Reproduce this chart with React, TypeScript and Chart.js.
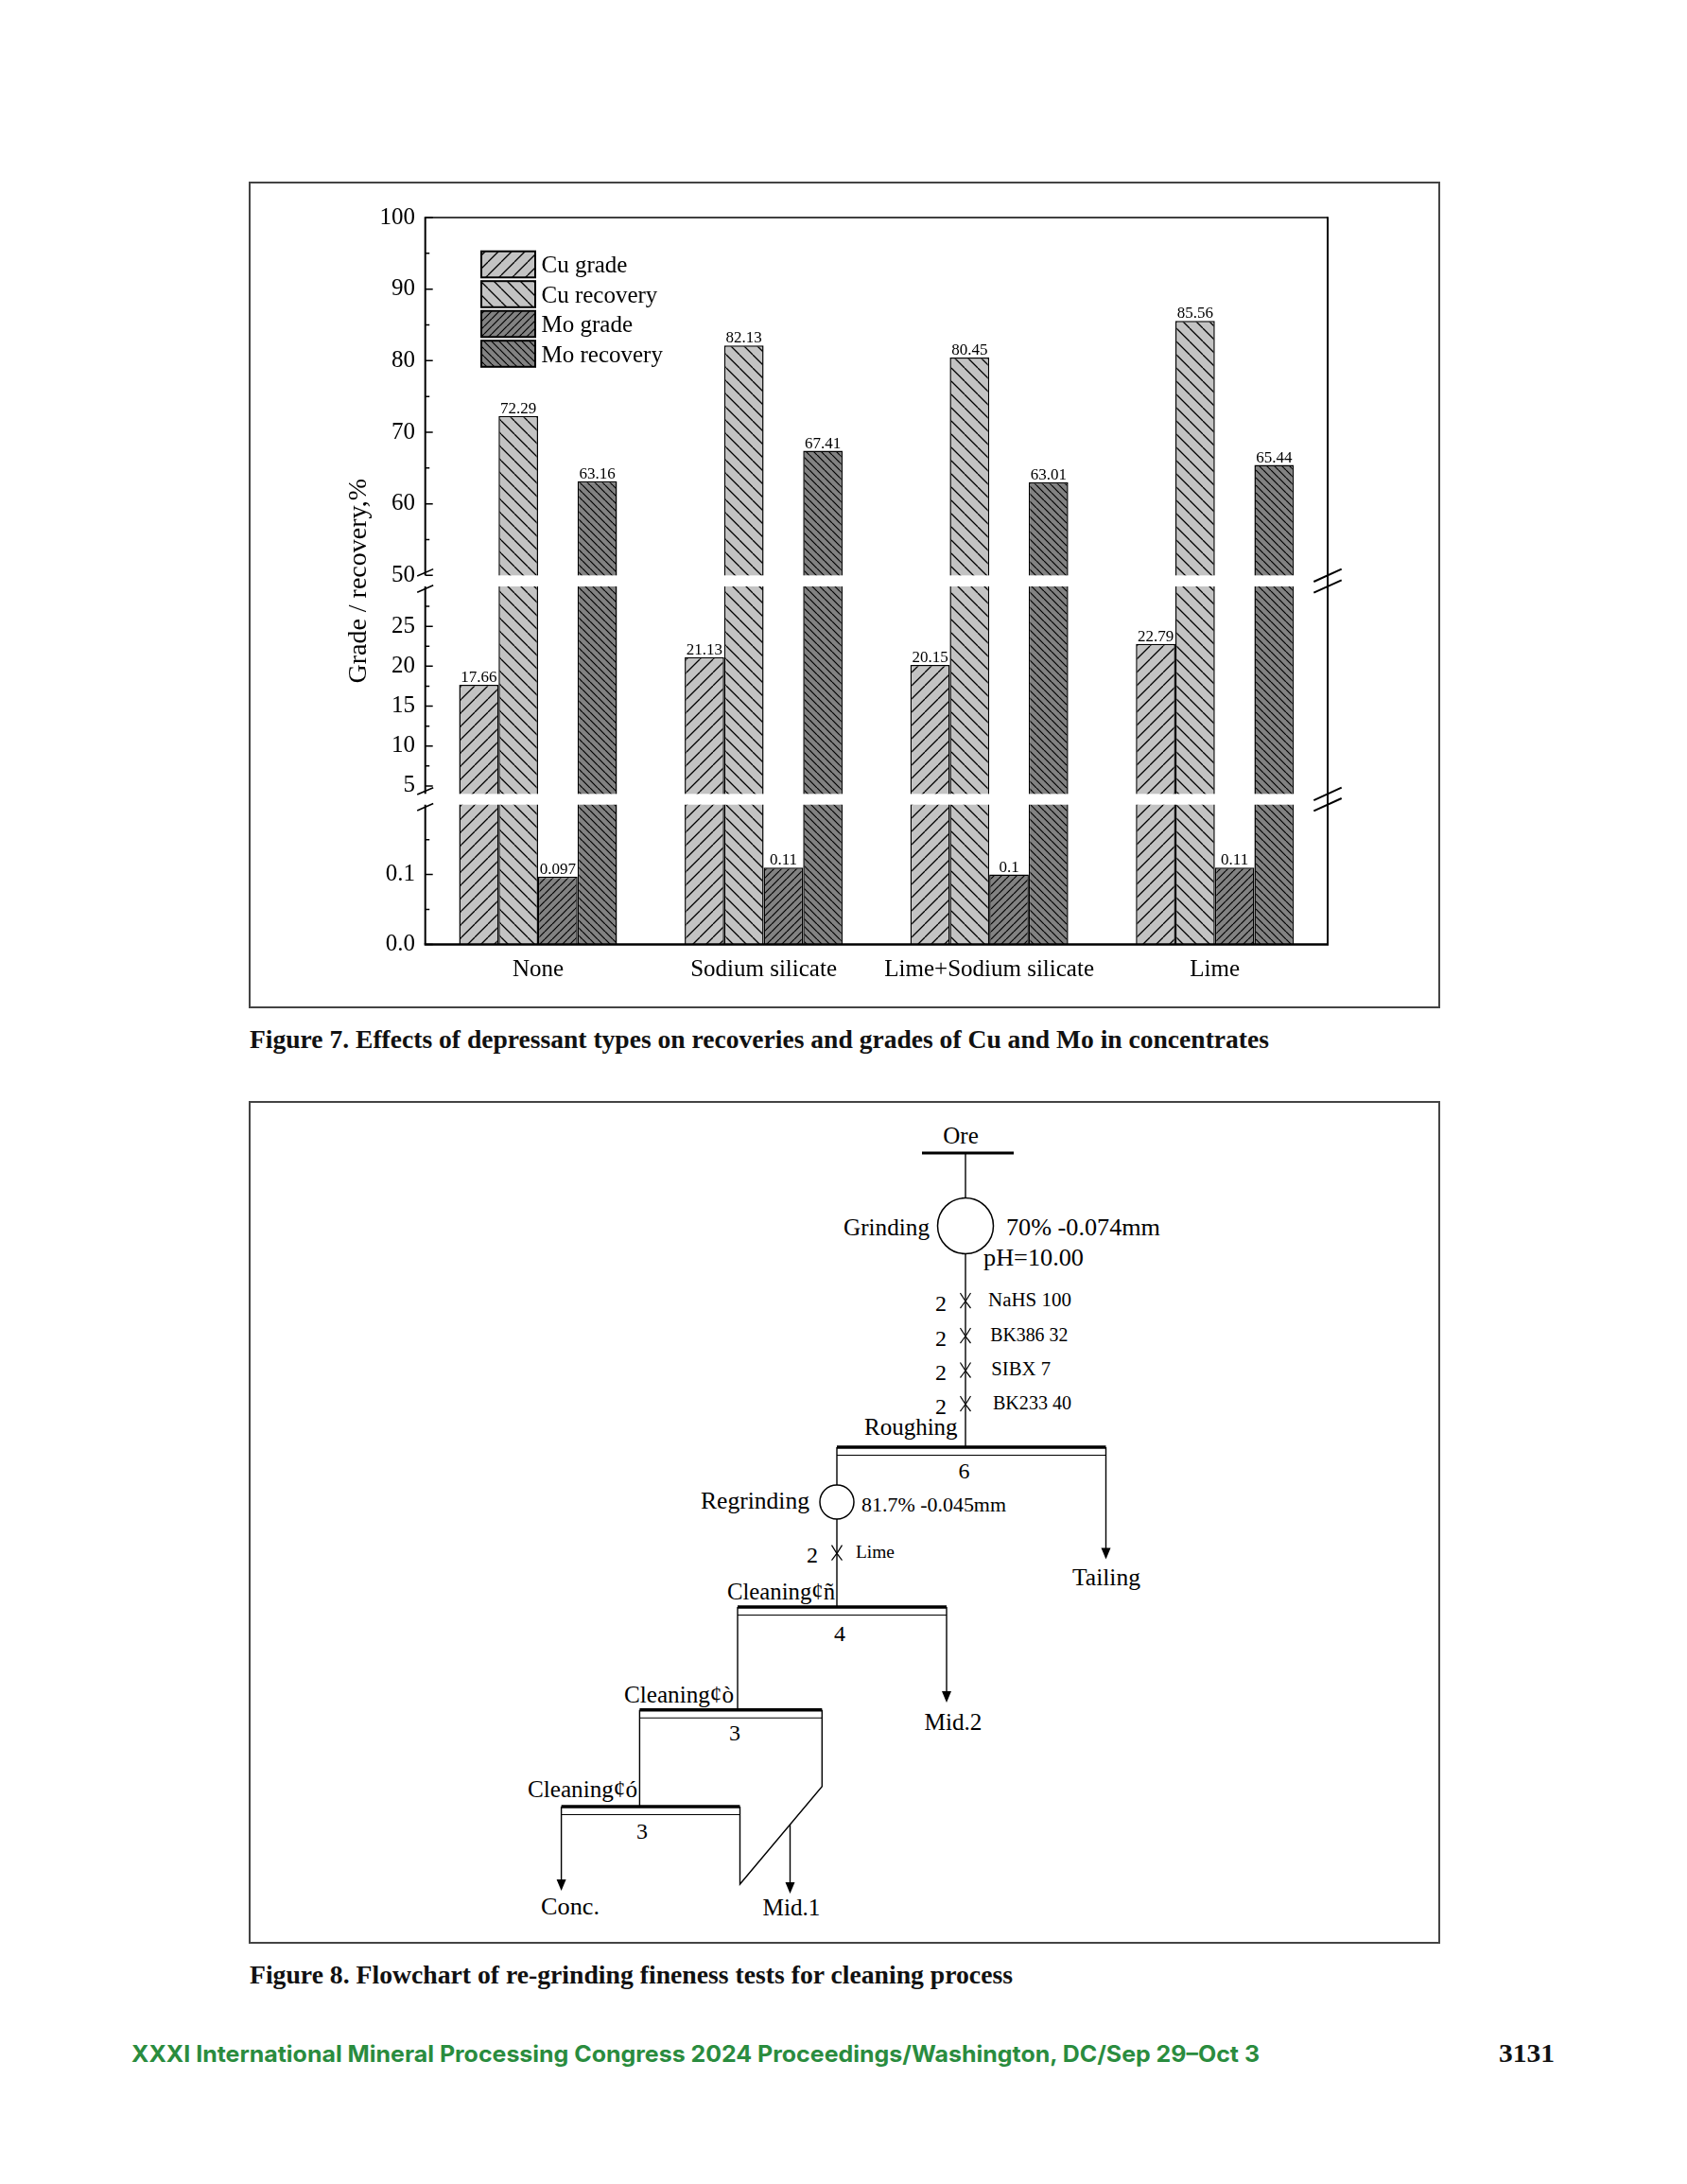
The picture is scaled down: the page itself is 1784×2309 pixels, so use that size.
import React, { useEffect, useRef } from 'react';
import { Chart, LinearScale, registerables } from 'chart.js';

// ---------------- data ----------------
const categories = ['None', 'Sodium silicate', 'Lime+Sodium silicate', 'Lime'];
const seriesLabels = ['Cu grade', 'Cu recovery', 'Mo grade', 'Mo recovery'];
const cuGrade = [17.66, 21.13, 20.15, 22.79];
const cuRecovery = [72.29, 82.13, 80.45, 85.56];
const moGrade = [0.097, 0.11, 0.1, 0.11];
const moRecovery = [63.16, 67.41, 63.01, 65.44];

const majorTickValues = [0, 0.1, 5, 10, 15, 20, 25, 50, 60, 70, 80, 90, 100];
const majorTickLabels = ['0.0', '0.1', '5', '10', '15', '20', '25', '50', '60', '70', '80', '90', '100'];
const minorTickValues = [0.05, 0.15, 7.5, 12.5, 17.5, 22.5, 27.5, 55, 65, 75, 85, 95];

// broken axis: value stops and their share of the axis height
const axisStopValues = [0, 0.2, 4, 30, 50, 100];
const axisStopFractions = [0, 0.1923, 0.2071, 0.4925, 0.5077, 1];
const axisBreaks = [[0.2, 4], [30, 50]];

const SERIF = "'Liberation Serif', 'Times New Roman', serif";

document.body.style.margin = '0';

function valueToFraction(v: number) {
  const vs = axisStopValues, fs = axisStopFractions;
  if (v <= vs[0]) return fs[0];
  for (let i = 1; i < vs.length; i++) {
    if (v <= vs[i]) return fs[i - 1] + ((v - vs[i - 1]) / (vs[i] - vs[i - 1])) * (fs[i] - fs[i - 1]);
  }
  return fs[fs.length - 1];
}
function fractionToValue(f: number) {
  const vs = axisStopValues, fs = axisStopFractions;
  if (f <= fs[0]) return vs[0];
  for (let i = 1; i < fs.length; i++) {
    if (f <= fs[i]) return vs[i - 1] + ((f - fs[i - 1]) / (fs[i] - fs[i - 1])) * (vs[i] - vs[i - 1]);
  }
  return vs[vs.length - 1];
}

class BrokenScale extends LinearScale {
  static id = 'broken';
  buildTicks() {
    const t = [
      ...majorTickValues.map((v) => ({ value: v, major: false })),
      ...minorTickValues.map((v) => ({ value: v, major: false })),
    ];
    t.sort((a, b) => a.value - b.value);
    return t;
  }
  getPixelForValue(value: number) {
    if (value === null || value === undefined || isNaN(value)) return NaN;
    return this.bottom - valueToFraction(value) * (this.bottom - this.top);
  }
  getValueForPixel(pixel: number) {
    return fractionToValue((this.bottom - pixel) / (this.bottom - this.top));
  }
}

Chart.register(...registerables, BrokenScale as any);

function makePattern(bg: string, spacing: number, dir: number, lw: number) {
  const c = document.createElement('canvas');
  c.width = spacing;
  c.height = spacing;
  const g = c.getContext('2d')!;
  g.fillStyle = bg;
  g.fillRect(0, 0, spacing, spacing);
  g.strokeStyle = '#000';
  g.lineWidth = lw;
  g.beginPath();
  for (const o of [-spacing, 0, spacing]) {
    if (dir > 0) {
      g.moveTo(o, spacing);
      g.lineTo(o + spacing, 0);
    } else {
      g.moveTo(o, 0);
      g.lineTo(o + spacing, spacing);
    }
  }
  g.stroke();
  return g.createPattern(c, 'repeat');
}

const framePlugin = {
  id: 'brokenFrame',
  afterDatasetsDraw(chart: any) {
    const { ctx, chartArea } = chart;
    const { left, right, top, bottom } = chartArea;
    const y = chart.scales.y;
    ctx.save();
    ctx.fillStyle = '#ffffff';
    for (const [a, b] of axisBreaks) {
      const y1 = y.getPixelForValue(b);
      const y2 = y.getPixelForValue(a);
      ctx.fillRect(left - 4, y1, right - left + 3, y2 - y1);
    }
    ctx.strokeStyle = '#000';
    ctx.lineCap = 'butt';
    ctx.lineWidth = 1.6;
    ctx.beginPath();
    ctx.moveTo(left, top);
    ctx.lineTo(right, top);
    ctx.stroke();
    ctx.lineWidth = 2;
    ctx.beginPath();
    ctx.moveTo(right, top - 0.8);
    ctx.lineTo(right, bottom);
    ctx.stroke();
    ctx.lineWidth = 2;
    const segs = [
      [bottom, y.getPixelForValue(axisBreaks[0][0])],
      [y.getPixelForValue(axisBreaks[0][1]), y.getPixelForValue(axisBreaks[1][0])],
      [y.getPixelForValue(axisBreaks[1][1]), top - 0.8],
    ];
    ctx.beginPath();
    for (const [s, e] of segs) {
      ctx.moveTo(left, s);
      ctx.lineTo(left, e);
    }
    ctx.stroke();
    ctx.lineWidth = 1.5;
    ctx.beginPath();
    y.ticks.forEach((t: any) => {
      const py = y.getPixelForValue(t.value);
      const len = t.label ? 8 : 4.5;
      ctx.moveTo(left, py);
      ctx.lineTo(left + len, py);
    });
    ctx.stroke();
    ctx.lineWidth = 2.6;
    ctx.beginPath();
    ctx.moveTo(left - 1, bottom);
    ctx.lineTo(right + 1, bottom);
    ctx.stroke();
    for (const [a, b] of axisBreaks) {
      const yu = y.getPixelForValue(b);
      const yl = y.getPixelForValue(a);
      ctx.lineWidth = 1.6;
      ctx.beginPath();
      for (const yc of [yu - 3, yl + 2.5]) {
        ctx.moveTo(left - 8.5, yc + 3.7);
        ctx.lineTo(left + 8.5, yc - 3.7);
      }
      ctx.stroke();
      ctx.lineWidth = 2;
      ctx.beginPath();
      for (const yc of [yu, yl]) {
        ctx.moveTo(right - 14.7, yc + 6.7);
        ctx.lineTo(right + 14.7, yc - 6.7);
      }
      ctx.stroke();
    }
    ctx.fillStyle = '#000';
    ctx.font = `17px ${SERIF}`;
    ctx.textAlign = 'center';
    ctx.textBaseline = 'alphabetic';
    chart.data.datasets.forEach((ds: any, di: number) => {
      const meta = chart.getDatasetMeta(di);
      meta.data.forEach((bar: any, i: number) => {
        ctx.fillText(String(ds.data[i]), bar.x, bar.y - 3);
      });
    });
    const lx = left + 59.3;
    const ly0 = top + 35.7;
    const bw = 57;
    const bh = 27.6;
    const pitch = 31.5;
    chart.data.datasets.forEach((ds: any, i: number) => {
      const yy = ly0 + i * pitch;
      ctx.fillStyle = ds.backgroundColor;
      ctx.fillRect(lx, yy, bw, bh);
      ctx.lineWidth = 2;
      ctx.strokeStyle = '#000';
      ctx.strokeRect(lx, yy, bw, bh);
      ctx.fillStyle = '#000';
      ctx.font = `25px ${SERIF}`;
      ctx.textAlign = 'left';
      ctx.textBaseline = 'alphabetic';
      ctx.fillText(ds.label, lx + bw + 6.5, yy + bh - 5);
    });
    ctx.restore();
  },
};

function BarChart() {
  const ref = useRef<HTMLCanvasElement | null>(null);
  useEffect(() => {
    const canvas = ref.current!;
    const light = '#c3c3c3';
    const dark = '#828282';
    const fills = [
      makePattern(light, 14, 1, 1.3),
      makePattern(light, 14, -1, 1.3),
      makePattern(dark, 8, 1, 1.2),
      makePattern(dark, 8, -1, 1.2),
    ];
    const values = [cuGrade, cuRecovery, moGrade, moRecovery];
    const chart = new Chart(canvas, {
      type: 'bar',
      data: {
        labels: categories,
        datasets: values.map((d, i) => ({
          label: seriesLabels[i],
          data: d,
          backgroundColor: fills[i] as any,
          borderColor: '#000',
          borderWidth: 1.5,
          categoryPercentage: 0.7,
          barPercentage: 1.0,
        })),
      },
      options: {
        responsive: false,
        devicePixelRatio: 1,
        animation: false,
        events: [],
        layout: { padding: { top: 37, right: 118, left: 0, bottom: 0 } },
        plugins: { legend: { display: false }, tooltip: { enabled: false } },
        scales: {
          x: {
            type: 'category',
            offset: true,
            grid: { display: false, drawTicks: false },
            border: { display: false },
            ticks: { color: '#000', font: { family: SERIF, size: 25 }, padding: 12, maxRotation: 0, autoSkip: false },
            afterFit: (s: any) => {
              s.height = 66.5;
            },
          },
          y: {
            type: 'broken' as any,
            min: 0,
            max: 100,
            grid: { display: false, drawTicks: false },
            border: { display: false },
            ticks: {
              autoSkip: false,
              padding: 10.7,
              color: '#000',
              font: { family: SERIF, size: 25 },
              callback: (value: any) => {
                const i = majorTickValues.indexOf(Number(value));
                return i >= 0 ? majorTickLabels[i] : '';
              },
            },
            title: {
              display: true,
              text: 'Grade / recovery,%',
              color: '#000',
              font: { family: SERIF, size: 28 },
              padding: { top: 99, bottom: 0 },
            },
            afterFit: (s: any) => {
              s.width = 185.7;
            },
          } as any,
        },
      },
      plugins: [framePlugin],
    });
    return () => chart.destroy();
  }, []);
  return (
    <canvas
      ref={ref}
      width={1258}
      height={872}
      style={{ position: 'absolute', left: 264, top: 193, width: 1258, height: 872 }}
    />
  );
}

function Arrow({ x, y1, tip }: { x: number; y1: number; tip: number }) {
  return (
    <g>
      <line x1={x} y1={y1} x2={x} y2={tip - 10} stroke="#000" strokeWidth={1.4} />
      <polygon points={`${x - 5},${tip - 12} ${x + 5},${tip - 12} ${x},${tip}`} fill="#000" />
    </g>
  );
}

function Reagent({ x, y }: { x: number; y: number }) {
  return (
    <path
      d={`M${x - 5.5},${y - 8} Q${x - 1},${y} ${x + 5.5},${y + 8} M${x + 5.5},${y - 8} Q${x + 1},${y} ${x - 5.5},${y + 8}`}
      stroke="#000"
      strokeWidth={1.2}
      fill="none"
    />
  );
}

function Cell({ x1, x2, y }: { x1: number; x2: number; y: number }) {
  return (
    <g>
      <line x1={x1} y1={y} x2={x2} y2={y} stroke="#000" strokeWidth={3.5} />
      <line x1={x1} y1={y + 8.5} x2={x2} y2={y + 8.5} stroke="#000" strokeWidth={1.1} />
    </g>
  );
}

function T(props: any) {
  const { x, y, size = 25, anchor = 'start', w, children, ...rest } = props;
  return (
    <text
      x={x}
      y={y}
      fontFamily={SERIF}
      fontSize={size}
      textAnchor={anchor}
      fill="#000"
      {...(w ? { textLength: w, lengthAdjust: 'spacingAndGlyphs' } : {})}
      {...rest}
    >
      {children}
    </text>
  );
}

const reagentYs = [1375, 1412, 1448.5, 1484];
const reagentNames = ['NaHS 100', 'BK386 32', 'SIBX 7', 'BK233 40'];
const reagentX = [1045, 1047.3, 1048.3, 1050];
const reagentW = [88, 82, 62.7, 83];

function Page() {
  const L = 1.4;
  return (
    <svg width={1784} height={2309} style={{ position: 'absolute', left: 0, top: 0 }}>
      <rect x={264} y={193} width={1258} height={872} fill="none" stroke="#444" strokeWidth={2} />
      <text x={264} y={1107.5} fontFamily={SERIF} fontWeight="bold" fontSize={27} textLength={1078} lengthAdjust="spacingAndGlyphs" fill="#111">
        Figure 7. Effects of depressant types on recoveries and grades of Cu and Mo in concentrates
      </text>

      <rect x={264} y={1165} width={1258} height={889} fill="none" stroke="#444" strokeWidth={2} />
      <T x={1016} y={1209} anchor="middle">Ore</T>
      <line x1={975} y1={1219} x2={1072} y2={1219} stroke="#000" strokeWidth={3} />
      <line x1={1021} y1={1219} x2={1021} y2={1266.5} stroke="#000" strokeWidth={L} />
      <circle cx={1021} cy={1296} r={29.5} fill="none" stroke="#000" strokeWidth={1.5} />
      <line x1={1021} y1={1325.5} x2={1021} y2={1530} stroke="#000" strokeWidth={L} />
      <T x={983} y={1306} anchor="end" w={91}>Grinding</T>
      <T x={1064} y={1306} size={25.5} w={163}>70% -0.074mm</T>
      <T x={1040} y={1338} size={25.5} w={106}>pH=10.00</T>
      {reagentYs.map((ry, i) => (
        <g key={i}>
          <Reagent x={1021} y={ry} />
          <T x={995} y={ry + 10.5} size={24} anchor="middle">2</T>
          <T x={reagentX[i]} y={ry + 5.5} size={20.5} w={reagentW[i]}>{reagentNames[i]}</T>
        </g>
      ))}
      <T x={914} y={1516.7} w={98.6}>Roughing</T>
      <Cell x1={885} x2={1169.5} y={1530} />
      <T x={1019.6} y={1563} size={24} anchor="middle">6</T>
      <line x1={885} y1={1530} x2={885} y2={1570} stroke="#000" strokeWidth={L} />
      <circle cx={885} cy={1588} r={18} fill="none" stroke="#000" strokeWidth={1.5} />
      <T x={856} y={1595} anchor="end" w={115}>Regrinding</T>
      <T x={911} y={1598} size={22} w={153}>81.7% -0.045mm</T>
      <line x1={885} y1={1606} x2={885} y2={1699} stroke="#000" strokeWidth={L} />
      <Reagent x={885} y={1641.6} />
      <T x={859} y={1652} size={24} anchor="middle">2</T>
      <T x={905} y={1647} size={19} w={41}>Lime</T>
      <Arrow x={1169.5} y1={1530} tip={1648.5} />
      <T x={1170} y={1676} anchor="middle" w={72}>Tailing</T>

      <T x={769} y={1691} w={114}>Cleaning¢ñ</T>
      <Cell x1={780} x2={1001} y={1699} />
      <T x={888} y={1735} size={24} anchor="middle">4</T>
      <Arrow x={1001} y1={1699} tip={1800} />
      <T x={1008} y={1829} anchor="middle" w={61}>Mid.2</T>
      <line x1={780} y1={1699} x2={780} y2={1807.7} stroke="#000" strokeWidth={L} />

      <T x={660} y={1800} w={116}>Cleaning¢ò</T>
      <Cell x1={676.4} x2={869.3} y={1807.7} />
      <T x={777} y={1840} size={24} anchor="middle">3</T>
      <polyline points="869.3,1807.7 869.3,1888.7 782.5,1992 782.5,1910" fill="none" stroke="#000" strokeWidth={L} />
      <Arrow x={835.5} y1={1928.9} tip={2002} />
      <T x={837} y={2025} anchor="middle" w={61}>Mid.1</T>
      <line x1={676.4} y1={1807.7} x2={676.4} y2={1910} stroke="#000" strokeWidth={L} />

      <T x={558} y={1900} w={116}>Cleaning¢ó</T>
      <Cell x1={593.6} x2={782.5} y={1910} />
      <T x={679} y={1944} size={24} anchor="middle">3</T>
      <Arrow x={593.6} y1={1910} tip={1999} />
      <T x={603} y={2024} anchor="middle" w={62}>Conc.</T>

      <text x={264} y={2096.5} fontFamily={SERIF} fontWeight="bold" fontSize={27} textLength={807} lengthAdjust="spacingAndGlyphs" fill="#111">
        Figure 8. Flowchart of re-grinding fineness tests for cleaning process
      </text>

      <text x={139} y={2179.5} fontFamily="Inter, 'Open Sans', sans-serif" fontWeight="bold" fontSize={24} textLength={1193} lengthAdjust="spacingAndGlyphs" fill="#2a8c3e">
        XXXI International Mineral Processing Congress 2024 Proceedings/Washington, DC/Sep 29–Oct 3
      </text>
      <text x={1585} y={2180} fontFamily={SERIF} fontWeight="bold" fontSize={27} textLength={59} lengthAdjust="spacingAndGlyphs" fill="#111">
        3131
      </text>
    </svg>
  );
}

export default function App() {
  return (
    <div style={{ position: 'relative', width: 1784, height: 2309, background: '#fff', overflow: 'hidden' }}>
      <Page />
      <BarChart />
    </div>
  );
}
